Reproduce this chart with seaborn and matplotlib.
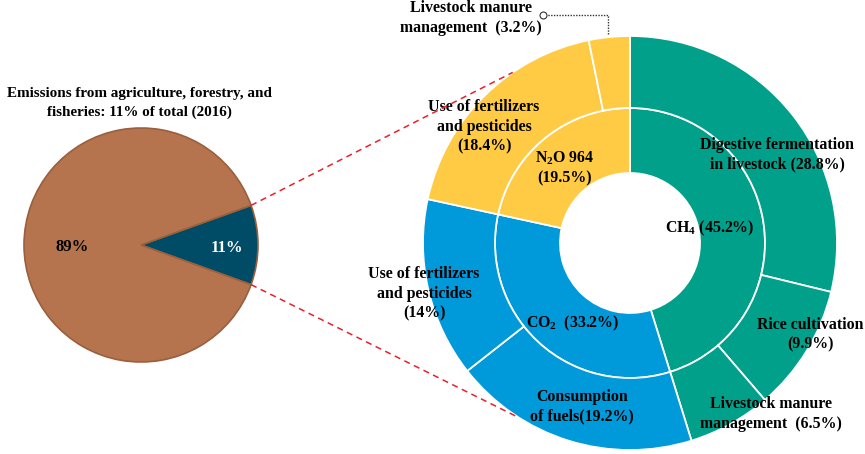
import numpy as np
import matplotlib
matplotlib.use("Agg")
import matplotlib.pyplot as plt
import seaborn as sns

# ---------------- data ----------------
left_labels = ["Agriculture, forestry, fisheries", "Other"]
left_values = [11, 89]
left_colors = ["#004B66", "#B5744E"]

gas_names = ["CH4", "CO2", "N2O"]
gas_label_text = ["CH$_{\\mathrm{4}}$ (45.2%)", "CO$_{\\mathrm{2}}$  (33.2%)", "N$_{\\mathrm{2}}$O 964\n(19.5%)"]
gas_colors = ["#00A08A", "#0099DA", "#FFCB45"]

sub_gas = ["CH4", "CH4", "CH4", "CO2", "CO2", "N2O", "N2O"]
sub_labels = ["Digestive fermentation\nin livestock (28.8%)",
              "Rice cultivation\n(9.9%)",
              "Livestock manure\nmanagement  (6.5%)",
              "Consumption\nof fuels(19.2%)",
              "Use of fertilizers\nand pesticides\n(14%)",
              "Use of fertilizers\nand pesticides\n(18.4%)",
              "Livestock manure\nmanagement  (3.2%)"]
sub_values = [28.8, 9.9, 6.5, 19.2, 14.0, 18.4, 3.2]

gas_values = [sum(v for g, v in zip(sub_gas, sub_values) if g == name) for name in gas_names]

title_text = "Emissions from agriculture, forestry, and\nfisheries: 11% of total (2016)"

# ---------------- style ----------------
sns.set_theme(style="white")
plt.rcParams["font.family"] = ["Liberation Serif", "DejaVu Serif"]
plt.rcParams["mathtext.fontset"] = "custom"
plt.rcParams["mathtext.rm"] = "Liberation Serif:bold"
plt.rcParams["mathtext.it"] = "Liberation Serif:bold"
plt.rcParams["mathtext.bf"] = "Liberation Serif:bold"

W, H = 865, 454
fig = plt.figure(figsize=(W / 100, H / 100), dpi=100)
ax = fig.add_axes([0, 0, 1, 1])

def Y(py):
    return H - py

# ---------------- left pie ----------------
lc = (141, Y(245))
lr = 117
half = left_values[0] / sum(left_values) * 360 / 2
wl, _ = ax.pie(left_values, colors=left_colors, center=lc, radius=lr,
               startangle=-half, counterclock=True,
               wedgeprops=dict(edgecolor="#9A5F3D", linewidth=1.2))
ax.text(227, Y(248), "11%", color="white", fontsize=12, fontweight="bold",
        ha="center", va="center")
ax.text(72, Y(247), "89%", color="black", fontsize=12, fontweight="bold",
        ha="center", va="center")
ax.text(139, Y(103), title_text, fontsize=10.9, fontweight="bold",
        ha="center", va="center", linespacing=1.6, color="black")

# ---------------- donut ----------------
dc = (630, Y(243))
r_out, r_in, r_hole = 207, 135, 70
sub_colors = [gas_colors[gas_names.index(g)] for g in sub_gas]
ax.pie(gas_values, colors=gas_colors, center=dc, radius=r_in,
       startangle=90, counterclock=False,
       wedgeprops=dict(width=r_in - r_hole, edgecolor="white", linewidth=1.3))
ax.pie(sub_values, colors=sub_colors, center=dc, radius=r_out,
       startangle=90, counterclock=False,
       wedgeprops=dict(width=r_out - r_in, edgecolor="white", linewidth=1.3))

fs = 11.4
bold = dict(fontsize=fs, fontweight="bold", ha="center", va="center",
            color="black", linespacing=1.3)

# gas labels
gas_pos = [(710, Y(228)), (573, Y(323)), (565, Y(168))]
for (x, y), t in zip(gas_pos, gas_label_text):
    ax.text(x, y, t, **bold)

# sub labels
sub_pos = [(777, Y(155)), (810, Y(335)), (771, Y(414)), (582, Y(407)),
           (424, Y(294)), (484, Y(127)), (471, Y(18))]
for (x, y), t in zip(sub_pos, sub_labels):
    ax.text(x, y, t, **bold)

# leader line for 3.2%
ax.plot([608, 608, 547], [Y(34), Y(15), Y(15)], color="#333333",
        linestyle=(0, (1, 1)), linewidth=1.0)
ax.plot([543], [Y(15)], marker="o", markersize=5, markerfacecolor="white",
        markeredgecolor="#333333", markeredgewidth=0.8, linestyle="none")

# red dashed connectors
for sgn, ang2 in [(1, 124.5), (-1, -122.5)]:
    a1 = np.deg2rad(sgn * half)
    x1 = lc[0] + lr * np.cos(a1)
    y1 = lc[1] + lr * np.sin(a1)
    a2 = np.deg2rad(ang2)
    x2 = dc[0] + r_out * np.cos(a2)
    y2 = dc[1] + r_out * np.sin(a2)
    ax.plot([x1, x2], [y1, y2], color="#E8202A", linestyle=(0, (4, 3)),
            linewidth=1.1, zorder=5)

ax.set_xlim(0, W)
ax.set_ylim(0, H)
ax.set_aspect("equal")
ax.axis("off")

fig.savefig("out.png", dpi=100)
